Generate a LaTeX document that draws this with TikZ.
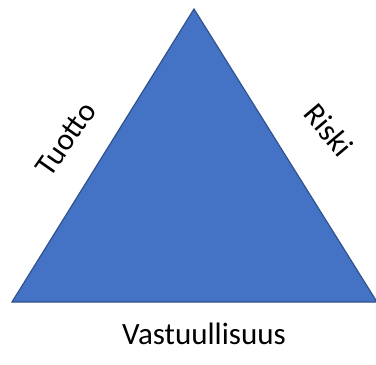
\documentclass[tikz,border=0pt]{standalone}
\usepackage{fontspec}
\setmainfont{Carlito}
\definecolor{triblue}{HTML}{4472C4}
\definecolor{triedge}{HTML}{2F528F}
\tikzset{lbl/.style={font=\fontsize{31}{36}\selectfont, inner sep=0pt}}
\begin{document}
\begin{tikzpicture}[x=1pt,y=-1pt]
\useasboundingbox (0,0) rectangle (376,365);
\begin{scope}
\clip (0,0) rectangle (376,365);
\coordinate (apex) at (194,9);
\coordinate (bl) at (12,302);
\coordinate (br) at (377,302);
\draw[fill=triblue, draw=triedge, line width=1.2pt, line join=miter] (apex) -- (bl) -- (br) -- cycle;
\end{scope}
\node[lbl, rotate=55] (tuotto) at (66,139) {Tuotto};
\node[lbl, rotate=-50] (riski) at (329,130) {Riski};
\node[lbl] (vastuu) at (204,334) {Vastuullisuus};
\end{tikzpicture}
\end{document}
